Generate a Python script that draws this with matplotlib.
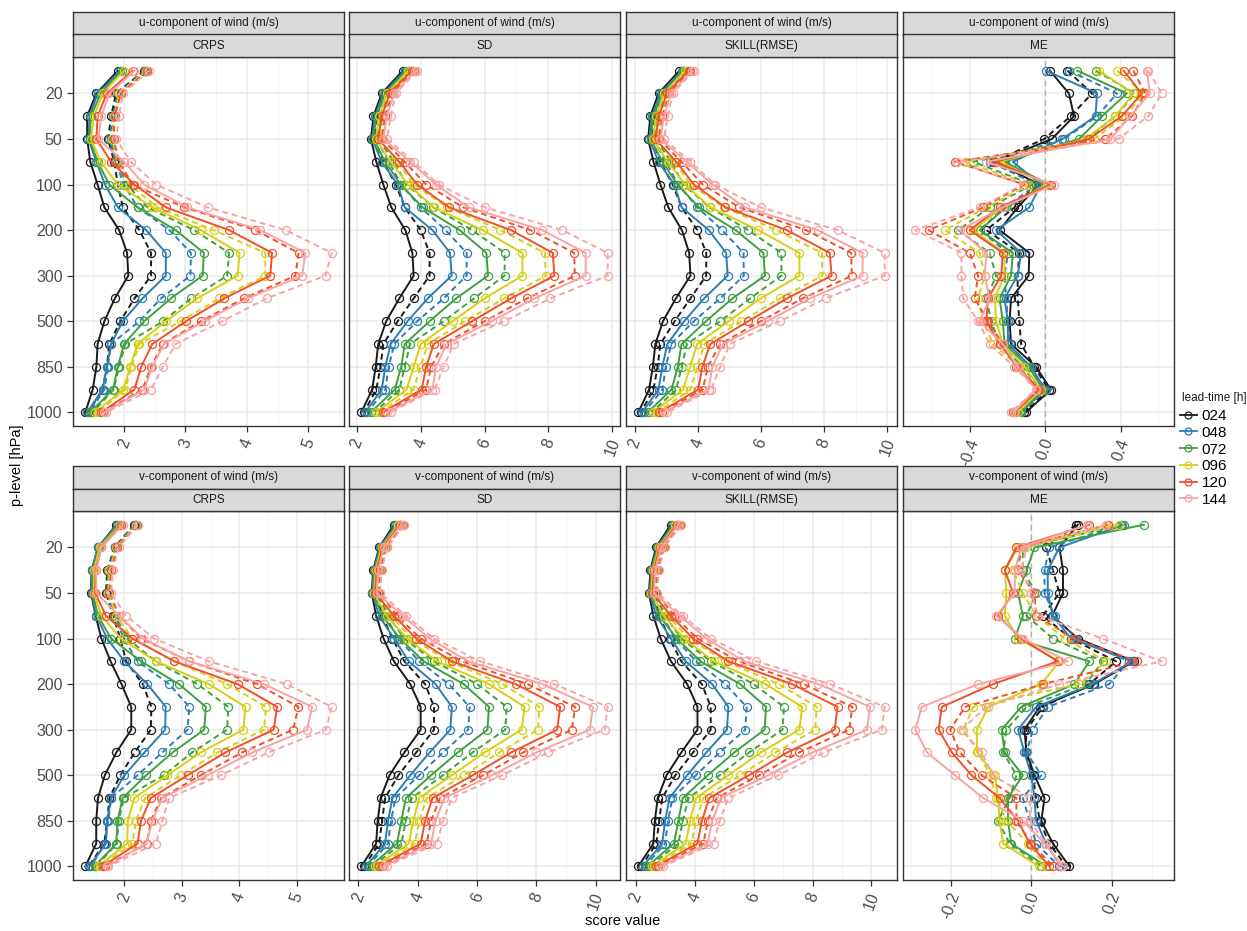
import matplotlib
matplotlib.use("Agg")
import matplotlib.pyplot as plt
from matplotlib.lines import Line2D
from matplotlib.ticker import MultipleLocator, FormatStrFormatter
import numpy as np

plt.rcParams['font.family'] = ['Liberation Sans', 'DejaVu Sans']
plt.rcParams['axes.unicode_minus'] = False

# ---------------- data ----------------
levels = [10, 20, 30, 50, 70, 100, 150, 200, 250, 300, 400, 500, 700, 850, 925, 1000]
level_ticks = [20, 50, 100, 200, 300, 500, 850, 1000]
lead_times = ['024', '048', '072', '096', '120', '144']
colors = ['#1A1A1A', '#2D7DB3', '#3FA03F', '#D6CF14', '#F0502A', '#F7A3A3']
var_labels = {'u': 'u-component of wind (m/s)', 'v': 'v-component of wind (m/s)'}
scores = ['CRPS', 'SD', 'SKILL(RMSE)', 'ME']

u_crps_solid = [
    [1.90, 1.55, 1.40, 1.40, 1.45, 1.57, 1.68, 1.92, 2.05, 2.07, 1.85, 1.68, 1.57, 1.55, 1.49, 1.37],
    [1.94, 1.57, 1.44, 1.42, 1.55, 1.69, 1.90, 2.36, 2.68, 2.68, 2.30, 1.98, 1.79, 1.72, 1.65, 1.40],
    [1.96, 1.62, 1.46, 1.44, 1.57, 1.76, 2.22, 2.84, 3.30, 3.28, 2.76, 2.33, 2.00, 1.90, 1.82, 1.45],
    [2.00, 1.65, 1.51, 1.46, 1.62, 1.90, 2.46, 3.25, 3.88, 3.85, 3.19, 2.68, 2.22, 2.10, 1.99, 1.53],
    [2.14, 1.72, 1.57, 1.55, 1.79, 2.17, 2.68, 3.71, 4.41, 4.38, 3.63, 3.01, 2.46, 2.28, 2.17, 1.63],
    [2.17, 1.76, 1.63, 1.58, 2.00, 2.33, 3.03, 4.22, 4.95, 4.90, 4.01, 3.31, 2.65, 2.46, 2.33, 1.68],
]
u_crps_dashed = [
    [2.33, 1.87, 1.79, 1.74, 1.84, 1.90, 1.98, 2.25, 2.44, 2.44, 2.17, 1.94, 1.76, 1.72, 1.65, 1.42],
    [2.34, 1.90, 1.82, 1.76, 1.86, 2.00, 2.22, 2.74, 3.09, 3.08, 2.60, 2.25, 1.79, 1.74, 1.68, 1.44],
    [2.36, 1.91, 1.84, 1.79, 1.88, 2.05, 2.38, 3.14, 3.71, 3.68, 3.09, 2.64, 2.02, 1.92, 1.83, 1.49],
    [2.36, 1.92, 1.84, 1.81, 1.90, 2.09, 2.54, 3.46, 4.30, 4.30, 3.55, 2.92, 2.25, 2.12, 2.02, 1.57],
    [2.38, 1.95, 1.85, 1.83, 1.92, 2.14, 2.98, 4.14, 4.84, 4.79, 3.95, 3.25, 2.63, 2.44, 2.30, 1.65],
    [2.41, 1.98, 1.92, 1.87, 2.11, 2.52, 3.36, 4.63, 5.38, 5.28, 4.32, 3.60, 2.84, 2.63, 2.44, 1.71],
]
u_sd_solid = [
    [3.44, 2.78, 2.52, 2.44, 2.61, 2.83, 3.08, 3.52, 3.74, 3.78, 3.33, 2.92, 2.67, 2.59, 2.48, 2.14],
    [3.50, 2.83, 2.56, 2.48, 2.78, 3.28, 3.50, 4.37, 4.92, 4.97, 4.22, 3.59, 3.06, 2.89, 2.78, 2.26],
    [3.56, 2.89, 2.61, 2.52, 2.89, 3.37, 4.06, 5.22, 6.06, 6.11, 5.11, 4.28, 3.50, 3.39, 3.19, 2.44],
    [3.61, 2.94, 2.70, 2.59, 3.06, 3.61, 4.41, 5.94, 7.19, 7.19, 6.00, 5.00, 4.00, 3.78, 3.56, 2.61],
    [3.72, 3.03, 2.78, 2.67, 3.33, 3.89, 4.89, 6.83, 8.14, 8.19, 6.83, 5.61, 4.41, 4.17, 4.03, 2.81],
    [3.83, 3.17, 2.94, 2.83, 3.67, 4.48, 5.50, 7.81, 9.17, 9.17, 7.56, 6.22, 4.81, 4.48, 4.37, 2.94],
]
u_sd_dashed = [
    [3.56, 2.89, 2.61, 2.56, 2.83, 3.22, 3.50, 4.00, 4.28, 4.28, 3.78, 3.28, 2.83, 2.74, 2.61, 2.22],
    [3.59, 2.94, 2.70, 2.61, 3.00, 3.39, 4.00, 4.78, 5.44, 5.44, 4.72, 3.89, 3.17, 3.00, 2.89, 2.33],
    [3.63, 3.00, 2.78, 2.67, 3.17, 3.56, 4.39, 5.61, 6.63, 6.63, 5.67, 4.72, 3.67, 3.50, 3.33, 2.56],
    [3.70, 3.06, 2.83, 2.72, 3.28, 3.78, 4.83, 6.50, 7.89, 7.92, 6.61, 5.39, 4.22, 4.00, 3.78, 2.72],
    [3.78, 3.11, 2.89, 2.78, 3.50, 4.17, 5.33, 7.44, 8.81, 8.83, 7.33, 6.00, 4.72, 4.33, 4.17, 2.89],
    [3.89, 3.22, 3.06, 2.94, 3.78, 4.56, 6.00, 8.44, 9.86, 9.86, 8.06, 6.61, 5.03, 4.72, 4.44, 3.06],
]
u_skill_solid = [
    [3.42, 2.76, 2.50, 2.43, 2.60, 2.82, 3.07, 3.50, 3.73, 3.77, 3.31, 2.90, 2.66, 2.58, 2.46, 2.12],
    [3.49, 2.82, 2.55, 2.47, 2.76, 3.26, 3.49, 4.35, 4.90, 4.95, 4.20, 3.57, 3.04, 2.88, 2.76, 2.24],
    [3.55, 2.88, 2.60, 2.51, 2.88, 3.36, 4.04, 5.20, 6.08, 6.13, 5.10, 4.26, 3.49, 3.37, 3.17, 2.42],
    [3.60, 2.93, 2.69, 2.58, 3.05, 3.60, 4.40, 5.92, 7.22, 7.22, 5.99, 4.98, 3.98, 3.76, 3.54, 2.59],
    [3.71, 3.02, 2.77, 2.66, 3.32, 3.88, 4.88, 6.82, 8.18, 8.24, 6.82, 5.60, 4.40, 4.15, 4.01, 2.79],
    [3.82, 3.16, 2.93, 2.82, 3.66, 4.47, 5.49, 7.80, 9.22, 9.22, 7.55, 6.21, 4.80, 4.46, 4.35, 2.92],
]
u_skill_dashed = [
    [3.55, 2.88, 2.60, 2.55, 2.82, 3.21, 3.49, 3.99, 4.27, 4.27, 3.77, 3.27, 2.82, 2.73, 2.60, 2.20],
    [3.58, 2.93, 2.69, 2.60, 2.99, 3.38, 3.99, 4.77, 5.45, 5.46, 4.71, 3.88, 3.16, 2.99, 2.88, 2.31],
    [3.62, 2.99, 2.77, 2.66, 3.16, 3.55, 4.38, 5.60, 6.65, 6.65, 5.66, 4.71, 3.66, 3.49, 3.32, 2.54],
    [3.69, 3.05, 2.82, 2.71, 3.27, 3.77, 4.82, 6.49, 7.93, 7.95, 6.60, 5.38, 4.21, 3.99, 3.77, 2.70],
    [3.77, 3.10, 2.88, 2.77, 3.49, 4.16, 5.32, 7.43, 8.86, 8.88, 7.32, 5.99, 4.71, 4.32, 4.16, 2.87],
    [3.88, 3.21, 3.05, 2.93, 3.77, 4.55, 5.99, 8.43, 9.92, 9.92, 8.05, 6.60, 5.02, 4.71, 4.43, 3.04],
]
u_me_solid = [
    [0.025, 0.126, 0.153, 0.035, -0.263, -0.032, -0.146, -0.242, -0.084, -0.088, -0.181, -0.189, -0.181, -0.049, 0.030, -0.102],
    [0.004, 0.275, 0.267, 0.091, -0.172, -0.023, -0.084, -0.260, -0.128, -0.146, -0.216, -0.198, -0.198, -0.075, 0.000, -0.128],
    [0.170, 0.433, 0.302, 0.179, -0.216, 0.021, -0.207, -0.347, -0.172, -0.181, -0.242, -0.225, -0.216, -0.088, -0.011, -0.128],
    [0.284, 0.468, 0.372, 0.214, -0.242, 0.012, -0.225, -0.382, -0.216, -0.216, -0.268, -0.260, -0.225, -0.110, -0.023, -0.146],
    [0.416, 0.512, 0.407, 0.232, -0.268, 0.030, -0.242, -0.400, -0.225, -0.233, -0.304, -0.312, -0.242, -0.146, -0.032, -0.163],
    [0.539, 0.556, 0.451, 0.346, -0.312, 0.047, -0.225, -0.453, -0.312, -0.321, -0.295, -0.347, -0.225, -0.146, -0.049, -0.168],
]
u_me_dashed = [
    [0.118, 0.249, 0.135, -0.005, -0.277, -0.049, -0.163, -0.312, -0.137, -0.146, -0.146, -0.137, -0.128, -0.058, 0.018, -0.110],
    [0.126, 0.381, 0.275, 0.100, -0.295, -0.040, -0.216, -0.347, -0.198, -0.216, -0.207, -0.198, -0.189, -0.084, 0.004, -0.133],
    [0.267, 0.477, 0.372, 0.223, -0.382, -0.067, -0.295, -0.461, -0.295, -0.260, -0.312, -0.286, -0.242, -0.119, -0.023, -0.154],
    [0.381, 0.521, 0.425, 0.258, -0.426, -0.084, -0.312, -0.532, -0.347, -0.321, -0.356, -0.330, -0.277, -0.137, -0.032, -0.158],
    [0.468, 0.530, 0.460, 0.319, -0.479, -0.110, -0.330, -0.619, -0.400, -0.356, -0.374, -0.304, -0.225, -0.154, -0.040, -0.172],
    [0.547, 0.618, 0.547, 0.389, -0.470, -0.119, -0.347, -0.689, -0.444, -0.444, -0.435, -0.356, -0.295, -0.163, -0.049, -0.181],
]
v_crps_solid = [
    [1.86, 1.54, 1.43, 1.42, 1.50, 1.60, 1.76, 1.95, 2.12, 2.12, 1.86, 1.66, 1.54, 1.51, 1.51, 1.32],
    [1.87, 1.54, 1.43, 1.43, 1.51, 1.70, 2.00, 2.40, 2.72, 2.71, 2.35, 2.00, 1.77, 1.70, 1.68, 1.39],
    [1.90, 1.55, 1.45, 1.45, 1.54, 1.77, 2.29, 2.95, 3.42, 3.39, 2.84, 2.38, 1.97, 1.88, 1.86, 1.48],
    [1.93, 1.57, 1.47, 1.47, 1.60, 1.94, 2.55, 3.47, 4.11, 4.07, 3.33, 2.75, 2.17, 2.06, 2.05, 1.54],
    [1.95, 1.60, 1.50, 1.49, 1.68, 2.14, 2.87, 3.97, 4.66, 4.60, 3.76, 3.10, 2.46, 2.29, 2.23, 1.62],
    [1.97, 1.60, 1.51, 1.51, 1.91, 2.32, 3.13, 4.43, 5.27, 5.18, 4.23, 3.45, 2.66, 2.49, 2.38, 1.70],
]
v_crps_dashed = [
    [2.17, 1.83, 1.70, 1.68, 1.80, 1.93, 2.03, 2.32, 2.47, 2.46, 2.18, 1.93, 1.74, 1.70, 1.65, 1.38],
    [2.18, 1.84, 1.71, 1.70, 1.83, 1.99, 2.23, 2.78, 3.13, 3.10, 2.66, 2.23, 1.77, 1.72, 1.66, 1.42],
    [2.20, 1.86, 1.72, 1.71, 1.84, 2.05, 2.55, 3.27, 3.81, 3.79, 3.18, 2.69, 1.99, 1.90, 1.87, 1.51],
    [2.20, 1.86, 1.74, 1.72, 1.86, 2.14, 2.87, 3.79, 4.47, 4.43, 3.62, 2.98, 2.36, 2.20, 2.14, 1.58],
    [2.22, 1.88, 1.77, 1.74, 1.91, 2.29, 3.13, 4.31, 5.03, 4.94, 4.05, 3.33, 2.64, 2.46, 2.39, 1.66],
    [2.23, 1.90, 1.80, 1.77, 2.03, 2.52, 3.47, 4.83, 5.61, 5.51, 4.51, 3.68, 2.78, 2.66, 2.55, 1.72],
]
v_sd_solid = [
    [3.20, 2.70, 2.50, 2.45, 2.60, 2.85, 3.20, 3.75, 4.10, 4.10, 3.55, 3.05, 2.75, 2.65, 2.60, 2.10],
    [3.25, 2.72, 2.52, 2.47, 2.70, 3.20, 3.70, 4.60, 5.15, 5.10, 4.40, 3.75, 3.15, 3.00, 2.90, 2.25],
    [3.30, 2.75, 2.55, 2.50, 2.80, 3.40, 4.20, 5.55, 6.40, 6.35, 5.35, 4.45, 3.60, 3.45, 3.30, 2.40],
    [3.35, 2.78, 2.58, 2.53, 2.95, 3.65, 4.65, 6.40, 7.60, 7.50, 6.25, 5.15, 4.05, 3.85, 3.70, 2.55],
    [3.40, 2.82, 2.62, 2.57, 3.20, 3.95, 5.15, 7.30, 8.80, 8.70, 7.15, 5.85, 4.50, 4.25, 4.10, 2.70],
    [3.45, 2.86, 2.66, 2.62, 3.50, 4.40, 5.70, 8.20, 9.90, 9.80, 8.00, 6.50, 4.90, 4.60, 4.45, 2.85],
]
v_sd_dashed = [
    [3.40, 2.85, 2.65, 2.60, 2.80, 3.15, 3.55, 4.25, 4.55, 4.55, 3.95, 3.35, 2.90, 2.80, 2.70, 2.20],
    [3.42, 2.88, 2.68, 2.62, 2.90, 3.35, 4.05, 5.05, 5.75, 5.70, 4.85, 4.05, 3.25, 3.10, 3.00, 2.32],
    [3.45, 2.90, 2.70, 2.65, 3.00, 3.55, 4.55, 6.00, 7.00, 6.95, 5.85, 4.85, 3.80, 3.60, 3.45, 2.48],
    [3.48, 2.92, 2.72, 2.68, 3.10, 3.80, 5.05, 6.85, 8.10, 8.05, 6.75, 5.55, 4.30, 4.05, 3.90, 2.62],
    [3.50, 2.95, 2.75, 2.70, 3.30, 4.10, 5.50, 7.70, 9.30, 9.20, 7.55, 6.20, 4.75, 4.45, 4.30, 2.78],
    [3.55, 2.98, 2.78, 2.74, 3.60, 4.55, 6.10, 8.60, 10.40, 10.30, 8.40, 6.85, 5.15, 4.85, 4.65, 2.95],
]
v_skill_solid = [
    [3.18, 2.68, 2.49, 2.44, 2.59, 2.84, 3.19, 3.74, 4.09, 4.09, 3.54, 3.04, 2.74, 2.64, 2.59, 2.08],
    [3.24, 2.71, 2.51, 2.46, 2.69, 3.19, 3.69, 4.59, 5.14, 5.09, 4.39, 3.74, 3.14, 2.99, 2.89, 2.23],
    [3.29, 2.74, 2.54, 2.49, 2.79, 3.39, 4.19, 5.54, 6.42, 6.37, 5.34, 4.44, 3.59, 3.44, 3.29, 2.38],
    [3.34, 2.77, 2.57, 2.52, 2.94, 3.64, 4.64, 6.40, 7.65, 7.55, 6.24, 5.14, 4.04, 3.84, 3.69, 2.53],
    [3.39, 2.81, 2.61, 2.56, 3.19, 3.94, 5.14, 7.30, 8.85, 8.75, 7.14, 5.84, 4.49, 4.24, 4.09, 2.68],
    [3.44, 2.85, 2.65, 2.61, 3.49, 4.39, 5.69, 8.20, 9.95, 9.85, 7.99, 6.49, 4.89, 4.59, 4.44, 2.83],
]
v_skill_dashed = [
    [3.39, 2.84, 2.64, 2.59, 2.79, 3.14, 3.54, 4.24, 4.54, 4.54, 3.94, 3.34, 2.89, 2.79, 2.69, 2.18],
    [3.41, 2.87, 2.67, 2.61, 2.89, 3.34, 4.04, 5.04, 5.76, 5.71, 4.84, 4.04, 3.24, 3.09, 2.99, 2.30],
    [3.44, 2.89, 2.69, 2.64, 2.99, 3.54, 4.54, 6.00, 7.03, 6.98, 5.84, 4.84, 3.79, 3.59, 3.44, 2.46],
    [3.47, 2.91, 2.71, 2.67, 3.09, 3.79, 5.04, 6.85, 8.14, 8.09, 6.74, 5.54, 4.29, 4.04, 3.89, 2.60],
    [3.49, 2.94, 2.74, 2.69, 3.29, 4.09, 5.49, 7.70, 9.35, 9.25, 7.54, 6.19, 4.74, 4.44, 4.29, 2.76],
    [3.54, 2.97, 2.77, 2.73, 3.59, 4.54, 6.09, 8.60, 10.45, 10.35, 8.39, 6.84, 5.14, 4.84, 4.64, 2.93],
]
v_me_solid = [
    [0.116, 0.070, 0.079, 0.079, 0.052, 0.116, 0.256, 0.157, 0.021, -0.017, -0.012, 0.008, 0.033, 0.025, 0.054, 0.095],
    [0.231, 0.070, 0.041, 0.041, 0.054, 0.099, 0.252, 0.153, 0.012, -0.033, -0.017, 0.000, 0.008, 0.012, 0.037, 0.074],
    [0.281, 0.008, -0.012, -0.033, -0.021, -0.041, 0.145, 0.107, -0.025, -0.074, -0.066, -0.021, -0.058, -0.058, -0.050, 0.037],
    [0.194, -0.033, -0.066, -0.062, -0.066, -0.033, 0.070, 0.025, -0.107, -0.136, -0.135, -0.091, -0.083, -0.079, -0.070, 0.019],
    [0.145, -0.037, -0.066, -0.045, -0.083, -0.025, 0.066, -0.095, -0.223, -0.231, -0.198, -0.149, -0.079, -0.033, -0.004, 0.045],
    [0.140, -0.025, -0.041, -0.041, -0.087, -0.021, 0.091, -0.132, -0.273, -0.289, -0.260, -0.190, -0.120, -0.021, 0.033, 0.079],
]
v_me_dashed = [
    [0.112, 0.037, 0.054, 0.070, 0.029, 0.099, 0.211, 0.145, 0.029, -0.012, -0.014, 0.004, 0.012, 0.021, 0.045, 0.087],
    [0.223, 0.045, 0.033, 0.033, 0.058, 0.112, 0.244, 0.194, 0.041, 0.004, -0.012, 0.025, -0.021, -0.004, 0.012, 0.070],
    [0.227, -0.021, -0.021, 0.012, -0.012, 0.054, 0.178, 0.136, -0.012, -0.062, -0.070, -0.037, -0.054, -0.083, -0.054, 0.025],
    [0.219, -0.017, -0.045, -0.021, 0.012, 0.083, 0.186, 0.120, -0.145, -0.169, -0.132, -0.103, -0.087, -0.062, -0.008, 0.037],
    [0.190, -0.025, -0.033, 0.008, 0.012, 0.107, 0.264, 0.029, -0.165, -0.202, -0.178, -0.124, -0.037, -0.037, 0.000, 0.054],
    [0.186, -0.012, -0.025, 0.000, 0.017, 0.178, 0.325, 0.070, -0.112, -0.174, -0.124, -0.095, -0.004, -0.004, 0.037, 0.074],
]

panel_data = {
    ('u', 'CRPS'): (u_crps_solid, u_crps_dashed),
    ('u', 'SD'): (u_sd_solid, u_sd_dashed),
    ('u', 'SKILL(RMSE)'): (u_skill_solid, u_skill_dashed),
    ('u', 'ME'): (u_me_solid, u_me_dashed),
    ('v', 'CRPS'): (v_crps_solid, v_crps_dashed),
    ('v', 'SD'): (v_sd_solid, v_sd_dashed),
    ('v', 'SKILL(RMSE)'): (v_skill_solid, v_skill_dashed),
    ('v', 'ME'): (v_me_solid, v_me_dashed),
}
tick_steps = {('u', 'CRPS'): 1, ('u', 'SD'): 2, ('u', 'SKILL(RMSE)'): 2, ('u', 'ME'): 0.4,
              ('v', 'CRPS'): 1, ('v', 'SD'): 2, ('v', 'SKILL(RMSE)'): 2, ('v', 'ME'): 0.2}

# ---------------- layout ----------------
W, H = 1247, 931
fig = plt.figure(figsize=(W / 100, H / 100), dpi=100)
col_left = [73, 349, 626, 903]
panel_w = 271
row_top = [57, 511]
panel_h = 369
strip_h = 22.5


def fx(px):
    return px / W


def fy(py):
    return 1 - py / H


ypos = np.arange(len(levels))
tick_idx = [levels.index(l) for l in level_ticks]

for r, var in enumerate(['u', 'v']):
    for c, score in enumerate(scores):
        left = col_left[c]
        top = row_top[r]
        ax = fig.add_axes([fx(left), fy(top + panel_h), panel_w / W, panel_h / H])
        solid, dashed = panel_data[(var, score)]
        if score == 'ME':
            ax.axvline(0, color='#B0B0B0', lw=1.0, ls=(0, (4, 3)), zorder=1)
        for i in range(len(lead_times)):
            ax.plot(solid[i], ypos, color=colors[i], lw=1.4, marker='o', ms=5.8,
                    mfc='none', mew=0.9, zorder=3)
            ax.plot(dashed[i], ypos, color=colors[i], lw=1.4, ls=(0, (3, 2)), marker='o',
                    ms=5.8, mfc='none', mew=0.9, zorder=3)
        ax.margins(x=0.05)
        ax.set_ylim(len(levels) - 1 + 0.6, -0.6)
        step = tick_steps[(var, score)]
        ax.xaxis.set_major_locator(MultipleLocator(step))
        ax.xaxis.set_minor_locator(MultipleLocator(step / 2))
        if score == 'ME':
            ax.xaxis.set_major_formatter(FormatStrFormatter('%.1f'))
        else:
            ax.xaxis.set_major_formatter(FormatStrFormatter('%d'))
        ax.set_yticks(tick_idx)
        ax.set_yticklabels([str(l) for l in level_ticks])
        ax.grid(which='major', color='#EBEBEB', lw=1.1)
        ax.grid(which='minor', axis='x', color='#F2F2F2', lw=0.6)
        ax.set_axisbelow(True)
        ax.tick_params(axis='both', which='major', labelsize=11.5, labelcolor='#4D4D4D',
                       color='#333333', length=4, width=0.9)
        ax.tick_params(axis='x', which='minor', length=0)
        ax.tick_params(axis='x', labelrotation=70)
        if c != 0:
            ax.tick_params(axis='y', length=0, labelleft=False)
        for sp in ax.spines.values():
            sp.set_color('#333333')
            sp.set_linewidth(1.0)
        # strips
        for k, txt in enumerate([var_labels[var], score]):
            y0 = top - strip_h * (2 - k)
            sax = fig.add_axes([fx(left), fy(y0 + strip_h), panel_w / W, strip_h / H])
            sax.set_facecolor('#D9D9D9')
            sax.set_xticks([])
            sax.set_yticks([])
            for sp in sax.spines.values():
                sp.set_color('#333333')
                sp.set_linewidth(1.0)
            sax.text(0.5, 0.5, txt, ha='center', va='center', fontsize=8.5,
                     color='#1A1A1A', transform=sax.transAxes)

fig.text(fx(623), fy(921), 'score value', ha='center', va='center', fontsize=10.5)
fig.text(fx(17), fy(465), 'p-level [hPa]', ha='center', va='center', rotation=90, fontsize=10.5)

handles = [Line2D([], [], color=col, lw=1.3, marker='o', ms=5, mfc='none', mew=0.9)
           for col in colors]
fig.text(fx(1182), fy(398), 'lead-time [h]', ha='left', va='center', fontsize=8.5, color='#1A1A1A')
fig.legend(handles, lead_times, loc='upper left',
           bbox_to_anchor=(fx(1180), fy(409)), frameon=False, fontsize=11,
           handlelength=1.1, handletextpad=0.3, labelspacing=0.18,
           borderaxespad=0, borderpad=0)

fig.savefig('out.png', dpi=100)
